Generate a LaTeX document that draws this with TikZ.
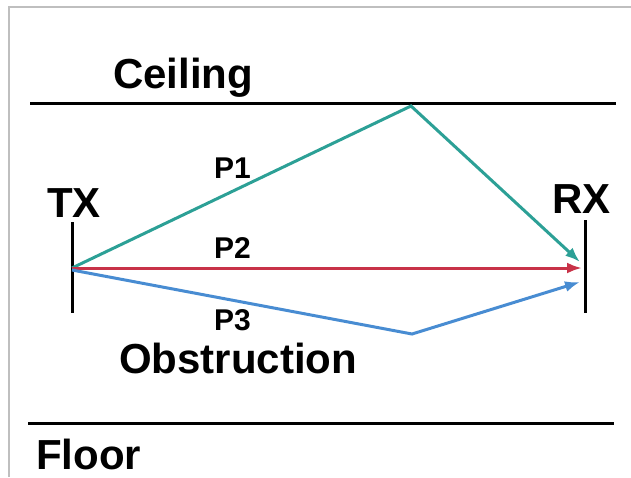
\documentclass[tikz,border=0pt]{standalone}
\usepackage{fontspec}
\setmainfont{Liberation Sans}
\usetikzlibrary{arrows.meta}
\definecolor{pathone}{RGB}{44,160,150}
\definecolor{pathtwo}{RGB}{200,50,72}
\definecolor{paththree}{RGB}{72,140,210}
\begin{document}
\begin{tikzpicture}[x=1pt,y=-1pt,
  bigtext/.style={anchor=base west,inner sep=0pt,font=\bfseries\fontsize{42}{48}\selectfont},
  pathtext/.style={anchor=base west,inner sep=0pt,font=\bfseries\fontsize{30}{33}\selectfont},
  wall/.style={line width=3pt},
  ray/.style={line width=3pt,-{Latex[length=15pt,width=11pt]}}]
\useasboundingbox (0,0) rectangle (631,477);
\draw[black!25,line width=1.5pt] (9,477) -- (9,7) -- (631,7);
% ceiling and floor
\coordinate (ceilL) at (30,103);
\coordinate (ceilR) at (616,103);
\coordinate (floorL) at (28,423);
\coordinate (floorR) at (614,423);
\draw[wall] (ceilL) -- (ceilR);
\draw[wall] (floorL) -- (floorR);
\node[bigtext] (ceiling) at (113,88) {Ceiling};
\node[bigtext] (floor) at (36,469) {Floor};
% antennas
\coordinate (txtop) at (72,222);
\coordinate (txbot) at (72,313);
\coordinate (rxtop) at (585,220);
\coordinate (rxbot) at (585,313);
\draw[wall] (txtop) -- (txbot);
\draw[wall] (rxtop) -- (rxbot);
\node[bigtext] (tx) at (47,217) {TX};
\node[bigtext] (rx) at (552,213) {RX};
% paths
\coordinate (src) at (72,268);
\coordinate (bounce) at (411,106);
\coordinate (block) at (412,334);
\coordinate (dstone) at (580,262);
\coordinate (dsttwo) at (582,268);
\coordinate (dstthree) at (580,282);
\draw[ray,pathone] (src) -- (bounce) -- (dstone);
\draw[ray,pathtwo] (src) -- (dsttwo);
\draw[ray,paththree] (72,270) -- (block) -- (dstthree);
\node[pathtext] (pone) at (214,178) {P1};
\node[pathtext] (ptwo) at (214,258) {P2};
\node[pathtext] (pthree) at (214,330) {P3};
\node[bigtext] (obst) at (119,373) {Obstruction};
\end{tikzpicture}
\end{document}
